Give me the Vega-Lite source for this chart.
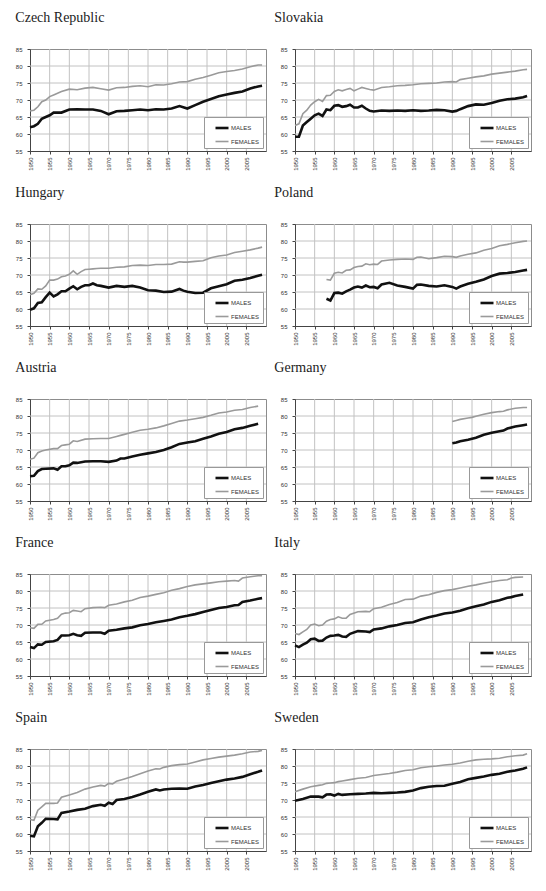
{
"$schema":"https://vega.github.io/schema/vega-lite/v6.json",
"background":"white",
"padding":{"left":14,"top":10,"right":0,"bottom":0},
"config":{
 "view":{"continuousWidth":236,"continuousHeight":102,"stroke":"#8c8c8c","strokeWidth":1},
 "title":{"anchor":"start","font":"Liberation Serif","fontSize":14,"fontWeight":"normal","color":"#222","offset":21},
 "axis":{"grid":false,"labelFont":"Liberation Sans","labelFontSize":6,"labelColor":"#333","tickColor":"#444","tickSize":3,"domainColor":"#444","labelPadding":3},
 "axisY":{"labelPadding":5},
 "rule":{"color":"#c2c2c2","strokeWidth":1},
 "legend":{"orient":"bottom-right","offset":3,"strokeColor":"#999","fillColor":"white","padding":3,"symbolType":"stroke","symbolSize":169,"symbolStrokeWidth":2,"symbolOffset":7,"labelFont":"Liberation Sans","labelFontSize":6,"labelColor":"#333","rowPadding":0,"labelOffset":1}
},
"columns":2,
"spacing":{"row":14,"column":5},
"resolve":{"scale":{"color":"independent","strokeWidth":"independent"},"legend":{"color":"independent"}},
"datasets":{
"gx":[{"g":1955},{"g":1960},{"g":1965},{"g":1970},{"g":1975},{"g":1980},{"g":1985},{"g":1990},{"g":1995},{"g":2000},{"g":2005}],
"gy":[{"g":60},{"g":65},{"g":70},{"g":75},{"g":80}],
"cz":[{"year":1950,"MALES":62,"FEMALES":66.8},{"year":1951,"MALES":62.3,"FEMALES":67},{"year":1952,"MALES":63,"FEMALES":68},{"year":1953,"MALES":64.5,"FEMALES":69.5},{"year":1954,"MALES":65,"FEMALES":70},{"year":1955,"MALES":65.5,"FEMALES":71},{"year":1956,"MALES":66.3,"FEMALES":71.5},{"year":1958,"MALES":66.3,"FEMALES":72.5},{"year":1960,"MALES":67.2,"FEMALES":73.2},{"year":1962,"MALES":67.3,"FEMALES":73},{"year":1964,"MALES":67.2,"FEMALES":73.5},{"year":1966,"MALES":67.2,"FEMALES":73.7},{"year":1968,"MALES":66.8,"FEMALES":73.3},{"year":1970,"MALES":65.8,"FEMALES":72.9},{"year":1972,"MALES":66.7,"FEMALES":73.6},{"year":1974,"MALES":66.8,"FEMALES":73.7},{"year":1976,"MALES":67,"FEMALES":74},{"year":1978,"MALES":67.2,"FEMALES":74.2},{"year":1980,"MALES":67,"FEMALES":73.9},{"year":1982,"MALES":67.3,"FEMALES":74.5},{"year":1984,"MALES":67.2,"FEMALES":74.4},{"year":1986,"MALES":67.5,"FEMALES":74.8},{"year":1988,"MALES":68.2,"FEMALES":75.3},{"year":1990,"MALES":67.5,"FEMALES":75.4},{"year":1992,"MALES":68.5,"FEMALES":76.1},{"year":1994,"MALES":69.5,"FEMALES":76.6},{"year":1996,"MALES":70.3,"FEMALES":77.3},{"year":1998,"MALES":71.1,"FEMALES":78},{"year":2000,"MALES":71.6,"FEMALES":78.4},{"year":2002,"MALES":72.1,"FEMALES":78.7},{"year":2004,"MALES":72.5,"FEMALES":79.1},{"year":2006,"MALES":73.4,"FEMALES":79.8},{"year":2008,"MALES":74,"FEMALES":80.3},{"year":2009,"MALES":74.2,"FEMALES":80.3}],
"sk":[{"year":1950,"MALES":59.2,"FEMALES":62.5},{"year":1951,"MALES":59.2,"FEMALES":63},{"year":1952,"MALES":62.5,"FEMALES":66},{"year":1953,"MALES":63.5,"FEMALES":67},{"year":1954,"MALES":64.5,"FEMALES":68.5},{"year":1955,"MALES":65.5,"FEMALES":69.5},{"year":1956,"MALES":66,"FEMALES":70.2},{"year":1957,"MALES":65.3,"FEMALES":69.6},{"year":1958,"MALES":67.2,"FEMALES":71.3},{"year":1959,"MALES":67,"FEMALES":71.4},{"year":1960,"MALES":68.3,"FEMALES":72.5},{"year":1961,"MALES":68.5,"FEMALES":73},{"year":1962,"MALES":68,"FEMALES":72.7},{"year":1963,"MALES":68.2,"FEMALES":73.1},{"year":1964,"MALES":68.6,"FEMALES":73.4},{"year":1965,"MALES":67.8,"FEMALES":72.7},{"year":1966,"MALES":67.8,"FEMALES":73.2},{"year":1967,"MALES":68.3,"FEMALES":73.7},{"year":1968,"MALES":67.5,"FEMALES":73.4},{"year":1969,"MALES":66.8,"FEMALES":73.1},{"year":1970,"MALES":66.6,"FEMALES":72.9},{"year":1972,"MALES":66.9,"FEMALES":73.7},{"year":1974,"MALES":66.8,"FEMALES":73.9},{"year":1976,"MALES":66.9,"FEMALES":74.2},{"year":1978,"MALES":66.8,"FEMALES":74.3},{"year":1980,"MALES":67,"FEMALES":74.5},{"year":1982,"MALES":66.8,"FEMALES":74.8},{"year":1984,"MALES":66.9,"FEMALES":74.9},{"year":1986,"MALES":67.1,"FEMALES":75},{"year":1988,"MALES":67,"FEMALES":75.3},{"year":1990,"MALES":66.6,"FEMALES":75.4},{"year":1991,"MALES":66.8,"FEMALES":75.3},{"year":1992,"MALES":67.3,"FEMALES":76},{"year":1994,"MALES":68.2,"FEMALES":76.4},{"year":1996,"MALES":68.7,"FEMALES":76.8},{"year":1998,"MALES":68.6,"FEMALES":77.1},{"year":2000,"MALES":69.1,"FEMALES":77.6},{"year":2002,"MALES":69.8,"FEMALES":77.9},{"year":2004,"MALES":70.2,"FEMALES":78.2},{"year":2006,"MALES":70.4,"FEMALES":78.5},{"year":2008,"MALES":70.8,"FEMALES":78.9},{"year":2009,"MALES":71.2,"FEMALES":79}],
"hu":[{"year":1950,"MALES":59.8,"FEMALES":64.2},{"year":1951,"MALES":60.2,"FEMALES":64.6},{"year":1952,"MALES":61.8,"FEMALES":65.9},{"year":1953,"MALES":62,"FEMALES":65.8},{"year":1954,"MALES":63.5,"FEMALES":66.8},{"year":1955,"MALES":64.8,"FEMALES":68.5},{"year":1956,"MALES":63.7,"FEMALES":68.5},{"year":1957,"MALES":64.3,"FEMALES":68.8},{"year":1958,"MALES":65.2,"FEMALES":69.5},{"year":1959,"MALES":65.2,"FEMALES":69.7},{"year":1960,"MALES":66,"FEMALES":70.2},{"year":1961,"MALES":66.7,"FEMALES":71.2},{"year":1962,"MALES":65.8,"FEMALES":70.2},{"year":1963,"MALES":66.5,"FEMALES":71},{"year":1964,"MALES":67,"FEMALES":71.6},{"year":1965,"MALES":67,"FEMALES":71.7},{"year":1966,"MALES":67.5,"FEMALES":71.8},{"year":1967,"MALES":67,"FEMALES":71.9},{"year":1968,"MALES":66.8,"FEMALES":72},{"year":1970,"MALES":66.3,"FEMALES":72},{"year":1972,"MALES":66.8,"FEMALES":72.3},{"year":1974,"MALES":66.5,"FEMALES":72.4},{"year":1976,"MALES":66.8,"FEMALES":72.8},{"year":1978,"MALES":66.3,"FEMALES":72.9},{"year":1980,"MALES":65.5,"FEMALES":72.8},{"year":1982,"MALES":65.4,"FEMALES":73.1},{"year":1984,"MALES":65,"FEMALES":73.1},{"year":1986,"MALES":65.1,"FEMALES":73.2},{"year":1988,"MALES":65.9,"FEMALES":73.9},{"year":1989,"MALES":65.4,"FEMALES":73.8},{"year":1990,"MALES":65.1,"FEMALES":73.8},{"year":1992,"MALES":64.7,"FEMALES":74},{"year":1994,"MALES":64.8,"FEMALES":74.2},{"year":1996,"MALES":66.1,"FEMALES":75.1},{"year":1998,"MALES":66.7,"FEMALES":75.6},{"year":2000,"MALES":67.3,"FEMALES":75.9},{"year":2002,"MALES":68.3,"FEMALES":76.6},{"year":2004,"MALES":68.6,"FEMALES":77},{"year":2006,"MALES":69.1,"FEMALES":77.4},{"year":2008,"MALES":69.8,"FEMALES":77.9},{"year":2009,"MALES":70.1,"FEMALES":78.2}],
"pl":[{"year":1958,"MALES":63,"FEMALES":68.7},{"year":1959,"MALES":62.5,"FEMALES":68.5},{"year":1960,"MALES":64.7,"FEMALES":70.5},{"year":1961,"MALES":64.8,"FEMALES":70.8},{"year":1962,"MALES":64.5,"FEMALES":70.6},{"year":1963,"MALES":65.2,"FEMALES":71.4},{"year":1964,"MALES":65.7,"FEMALES":71.5},{"year":1965,"MALES":66.3,"FEMALES":72.2},{"year":1966,"MALES":66.6,"FEMALES":72.5},{"year":1967,"MALES":66.3,"FEMALES":72.6},{"year":1968,"MALES":66.9,"FEMALES":73.3},{"year":1969,"MALES":66.4,"FEMALES":73},{"year":1970,"MALES":66.5,"FEMALES":73.2},{"year":1971,"MALES":66.1,"FEMALES":73.1},{"year":1972,"MALES":67.2,"FEMALES":74.1},{"year":1974,"MALES":67.7,"FEMALES":74.4},{"year":1976,"MALES":66.9,"FEMALES":74.6},{"year":1978,"MALES":66.5,"FEMALES":74.7},{"year":1980,"MALES":66,"FEMALES":74.6},{"year":1981,"MALES":67.1,"FEMALES":75.2},{"year":1982,"MALES":67.2,"FEMALES":75.3},{"year":1984,"MALES":66.8,"FEMALES":74.8},{"year":1986,"MALES":66.6,"FEMALES":75.1},{"year":1988,"MALES":67,"FEMALES":75.5},{"year":1990,"MALES":66.5,"FEMALES":75.4},{"year":1991,"MALES":66,"FEMALES":75.2},{"year":1992,"MALES":66.6,"FEMALES":75.6},{"year":1994,"MALES":67.4,"FEMALES":76.1},{"year":1996,"MALES":68,"FEMALES":76.5},{"year":1998,"MALES":68.7,"FEMALES":77.3},{"year":2000,"MALES":69.7,"FEMALES":77.8},{"year":2002,"MALES":70.4,"FEMALES":78.6},{"year":2004,"MALES":70.6,"FEMALES":79},{"year":2006,"MALES":70.9,"FEMALES":79.5},{"year":2008,"MALES":71.3,"FEMALES":79.9},{"year":2009,"MALES":71.5,"FEMALES":80}],
"at":[{"year":1950,"MALES":62.3,"FEMALES":67.3},{"year":1951,"MALES":62.4,"FEMALES":67.6},{"year":1952,"MALES":63.8,"FEMALES":69.2},{"year":1953,"MALES":64.4,"FEMALES":69.7},{"year":1954,"MALES":64.5,"FEMALES":70},{"year":1956,"MALES":64.6,"FEMALES":70.4},{"year":1957,"MALES":64.2,"FEMALES":70.4},{"year":1958,"MALES":65.2,"FEMALES":71.3},{"year":1959,"MALES":65.2,"FEMALES":71.5},{"year":1960,"MALES":65.5,"FEMALES":71.7},{"year":1961,"MALES":66.3,"FEMALES":72.7},{"year":1962,"MALES":66.2,"FEMALES":72.5},{"year":1964,"MALES":66.6,"FEMALES":73.2},{"year":1966,"MALES":66.7,"FEMALES":73.3},{"year":1968,"MALES":66.7,"FEMALES":73.4},{"year":1970,"MALES":66.5,"FEMALES":73.4},{"year":1972,"MALES":66.9,"FEMALES":74},{"year":1973,"MALES":67.5,"FEMALES":74.3},{"year":1974,"MALES":67.5,"FEMALES":74.6},{"year":1976,"MALES":68.1,"FEMALES":75.2},{"year":1978,"MALES":68.6,"FEMALES":75.8},{"year":1980,"MALES":69,"FEMALES":76.1},{"year":1982,"MALES":69.4,"FEMALES":76.5},{"year":1984,"MALES":70,"FEMALES":77.1},{"year":1986,"MALES":70.8,"FEMALES":77.8},{"year":1988,"MALES":71.8,"FEMALES":78.5},{"year":1990,"MALES":72.2,"FEMALES":78.8},{"year":1992,"MALES":72.6,"FEMALES":79.2},{"year":1994,"MALES":73.3,"FEMALES":79.6},{"year":1996,"MALES":74,"FEMALES":80.2},{"year":1998,"MALES":74.8,"FEMALES":80.9},{"year":2000,"MALES":75.3,"FEMALES":81.2},{"year":2002,"MALES":76.1,"FEMALES":81.7},{"year":2004,"MALES":76.5,"FEMALES":81.9},{"year":2006,"MALES":77.1,"FEMALES":82.5},{"year":2008,"MALES":77.7,"FEMALES":82.9}],
"de":[{"year":1990,"MALES":72,"FEMALES":78.4},{"year":1991,"MALES":72.2,"FEMALES":78.7},{"year":1992,"MALES":72.6,"FEMALES":79},{"year":1994,"MALES":73,"FEMALES":79.4},{"year":1995,"MALES":73.3,"FEMALES":79.6},{"year":1996,"MALES":73.6,"FEMALES":79.9},{"year":1998,"MALES":74.5,"FEMALES":80.5},{"year":2000,"MALES":75.1,"FEMALES":81},{"year":2002,"MALES":75.5,"FEMALES":81.3},{"year":2003,"MALES":75.7,"FEMALES":81.4},{"year":2004,"MALES":76.3,"FEMALES":81.8},{"year":2006,"MALES":76.9,"FEMALES":82.3},{"year":2008,"MALES":77.3,"FEMALES":82.5},{"year":2009,"MALES":77.5,"FEMALES":82.5}],
"fr":[{"year":1950,"MALES":63.5,"FEMALES":69.2},{"year":1951,"MALES":63.2,"FEMALES":69},{"year":1952,"MALES":64.3,"FEMALES":70.2},{"year":1953,"MALES":64.2,"FEMALES":70.2},{"year":1954,"MALES":65,"FEMALES":71.2},{"year":1956,"MALES":65.2,"FEMALES":71.6},{"year":1957,"MALES":65.6,"FEMALES":72},{"year":1958,"MALES":66.9,"FEMALES":73.2},{"year":1959,"MALES":66.9,"FEMALES":73.5},{"year":1960,"MALES":67,"FEMALES":73.6},{"year":1961,"MALES":67.4,"FEMALES":74.3},{"year":1962,"MALES":67,"FEMALES":74.1},{"year":1963,"MALES":66.8,"FEMALES":73.9},{"year":1964,"MALES":67.7,"FEMALES":74.8},{"year":1966,"MALES":67.8,"FEMALES":75.1},{"year":1968,"MALES":67.8,"FEMALES":75.2},{"year":1969,"MALES":67.4,"FEMALES":75.1},{"year":1970,"MALES":68.3,"FEMALES":75.8},{"year":1972,"MALES":68.6,"FEMALES":76.2},{"year":1974,"MALES":69,"FEMALES":76.8},{"year":1976,"MALES":69.3,"FEMALES":77.3},{"year":1978,"MALES":69.9,"FEMALES":78.1},{"year":1980,"MALES":70.3,"FEMALES":78.5},{"year":1982,"MALES":70.8,"FEMALES":79},{"year":1984,"MALES":71.2,"FEMALES":79.5},{"year":1986,"MALES":71.6,"FEMALES":80.2},{"year":1988,"MALES":72.3,"FEMALES":80.7},{"year":1990,"MALES":72.7,"FEMALES":81.3},{"year":1992,"MALES":73.2,"FEMALES":81.8},{"year":1994,"MALES":73.8,"FEMALES":82.1},{"year":1996,"MALES":74.4,"FEMALES":82.4},{"year":1998,"MALES":75,"FEMALES":82.7},{"year":2000,"MALES":75.3,"FEMALES":82.9},{"year":2002,"MALES":75.8,"FEMALES":83.1},{"year":2003,"MALES":75.9,"FEMALES":82.9},{"year":2004,"MALES":76.8,"FEMALES":83.8},{"year":2006,"MALES":77.2,"FEMALES":84.2},{"year":2008,"MALES":77.7,"FEMALES":84.5},{"year":2009,"MALES":77.9,"FEMALES":84.5}],
"it":[{"year":1950,"MALES":64,"FEMALES":67.5},{"year":1951,"MALES":63.5,"FEMALES":67.2},{"year":1952,"MALES":64.2,"FEMALES":68},{"year":1953,"MALES":64.8,"FEMALES":68.7},{"year":1954,"MALES":65.8,"FEMALES":70},{"year":1955,"MALES":66,"FEMALES":70.3},{"year":1956,"MALES":65.3,"FEMALES":69.8},{"year":1957,"MALES":65.4,"FEMALES":70},{"year":1958,"MALES":66.3,"FEMALES":71.1},{"year":1959,"MALES":66.8,"FEMALES":71.6},{"year":1960,"MALES":66.9,"FEMALES":71.8},{"year":1961,"MALES":67.1,"FEMALES":72.4},{"year":1962,"MALES":66.6,"FEMALES":72},{"year":1963,"MALES":66.5,"FEMALES":72},{"year":1964,"MALES":67.4,"FEMALES":73.1},{"year":1966,"MALES":68.2,"FEMALES":73.9},{"year":1968,"MALES":68.1,"FEMALES":74},{"year":1969,"MALES":67.9,"FEMALES":73.9},{"year":1970,"MALES":68.7,"FEMALES":74.8},{"year":1972,"MALES":69,"FEMALES":75.2},{"year":1974,"MALES":69.6,"FEMALES":76},{"year":1976,"MALES":70,"FEMALES":76.6},{"year":1978,"MALES":70.6,"FEMALES":77.5},{"year":1980,"MALES":70.8,"FEMALES":77.6},{"year":1982,"MALES":71.6,"FEMALES":78.5},{"year":1984,"MALES":72.3,"FEMALES":78.9},{"year":1986,"MALES":72.8,"FEMALES":79.6},{"year":1988,"MALES":73.4,"FEMALES":80.1},{"year":1990,"MALES":73.7,"FEMALES":80.4},{"year":1992,"MALES":74.2,"FEMALES":80.9},{"year":1994,"MALES":74.9,"FEMALES":81.4},{"year":1996,"MALES":75.5,"FEMALES":81.8},{"year":1998,"MALES":76,"FEMALES":82.3},{"year":2000,"MALES":76.8,"FEMALES":82.7},{"year":2002,"MALES":77.3,"FEMALES":83.1},{"year":2004,"MALES":78,"FEMALES":83.3},{"year":2005,"MALES":78.2,"FEMALES":83.8},{"year":2006,"MALES":78.5,"FEMALES":84},{"year":2008,"MALES":79,"FEMALES":84.1}],
"es":[{"year":1950,"MALES":59.5,"FEMALES":64.3},{"year":1951,"MALES":59.3,"FEMALES":64},{"year":1952,"MALES":62.3,"FEMALES":67},{"year":1953,"MALES":63.3,"FEMALES":68},{"year":1954,"MALES":64.5,"FEMALES":69},{"year":1956,"MALES":64.4,"FEMALES":69},{"year":1957,"MALES":64.3,"FEMALES":69.1},{"year":1958,"MALES":66.2,"FEMALES":70.8},{"year":1960,"MALES":66.6,"FEMALES":71.5},{"year":1962,"MALES":67.1,"FEMALES":72.2},{"year":1964,"MALES":67.4,"FEMALES":73.2},{"year":1966,"MALES":68.2,"FEMALES":73.8},{"year":1968,"MALES":68.6,"FEMALES":74.3},{"year":1969,"MALES":68.3,"FEMALES":74.1},{"year":1970,"MALES":69.2,"FEMALES":74.9},{"year":1971,"MALES":68.8,"FEMALES":74.7},{"year":1972,"MALES":70,"FEMALES":75.5},{"year":1974,"MALES":70.3,"FEMALES":76.2},{"year":1976,"MALES":70.9,"FEMALES":76.9},{"year":1978,"MALES":71.6,"FEMALES":77.7},{"year":1980,"MALES":72.4,"FEMALES":78.5},{"year":1982,"MALES":73.1,"FEMALES":79.2},{"year":1983,"MALES":72.8,"FEMALES":79.1},{"year":1984,"MALES":73.1,"FEMALES":79.6},{"year":1986,"MALES":73.3,"FEMALES":80.1},{"year":1988,"MALES":73.4,"FEMALES":80.4},{"year":1990,"MALES":73.3,"FEMALES":80.6},{"year":1992,"MALES":74,"FEMALES":81.2},{"year":1994,"MALES":74.4,"FEMALES":81.8},{"year":1996,"MALES":75,"FEMALES":82.2},{"year":1998,"MALES":75.5,"FEMALES":82.6},{"year":2000,"MALES":76,"FEMALES":82.9},{"year":2002,"MALES":76.3,"FEMALES":83.2},{"year":2004,"MALES":76.8,"FEMALES":83.6},{"year":2006,"MALES":77.6,"FEMALES":84.1},{"year":2008,"MALES":78.3,"FEMALES":84.3},{"year":2009,"MALES":78.7,"FEMALES":84.6}],
"se":[{"year":1950,"MALES":69.8,"FEMALES":72.4},{"year":1952,"MALES":70.3,"FEMALES":73.2},{"year":1954,"MALES":71,"FEMALES":73.9},{"year":1956,"MALES":71,"FEMALES":74.3},{"year":1957,"MALES":70.8,"FEMALES":74.5},{"year":1958,"MALES":71.6,"FEMALES":74.9},{"year":1959,"MALES":71.7,"FEMALES":75},{"year":1960,"MALES":71.3,"FEMALES":75.1},{"year":1961,"MALES":71.8,"FEMALES":75.4},{"year":1962,"MALES":71.5,"FEMALES":75.6},{"year":1964,"MALES":71.7,"FEMALES":76},{"year":1966,"MALES":71.8,"FEMALES":76.4},{"year":1968,"MALES":71.9,"FEMALES":76.6},{"year":1970,"MALES":72.1,"FEMALES":77.2},{"year":1972,"MALES":72,"FEMALES":77.5},{"year":1974,"MALES":72.1,"FEMALES":77.8},{"year":1976,"MALES":72.2,"FEMALES":78.2},{"year":1978,"MALES":72.4,"FEMALES":78.7},{"year":1980,"MALES":72.8,"FEMALES":78.9},{"year":1982,"MALES":73.5,"FEMALES":79.5},{"year":1984,"MALES":73.9,"FEMALES":79.8},{"year":1986,"MALES":74.1,"FEMALES":80},{"year":1988,"MALES":74.2,"FEMALES":80.3},{"year":1990,"MALES":74.8,"FEMALES":80.5},{"year":1992,"MALES":75.3,"FEMALES":80.9},{"year":1994,"MALES":76.1,"FEMALES":81.4},{"year":1996,"MALES":76.5,"FEMALES":81.8},{"year":1998,"MALES":76.9,"FEMALES":82},{"year":2000,"MALES":77.4,"FEMALES":82.1},{"year":2002,"MALES":77.7,"FEMALES":82.3},{"year":2004,"MALES":78.3,"FEMALES":82.7},{"year":2006,"MALES":78.7,"FEMALES":83},{"year":2008,"MALES":79.2,"FEMALES":83.2},{"year":2009,"MALES":79.6,"FEMALES":83.6}]
},
"concat":[
{"title":{"text":"Czech Republic"},"layer":[{"data":{"name":"gx"},"mark":"rule","encoding":{"x":{"field":"g","type":"quantitative","scale":{"domain":[1950,2010],"nice":false,"zero":false},"axis":{"values":[1950,1955,1960,1965,1970,1975,1980,1985,1990,1995,2000,2005],"format":"d","labelAngle":-90,"title":null}}}},{"data":{"name":"gy"},"mark":"rule","encoding":{"y":{"field":"g","type":"quantitative","scale":{"domain":[55,85],"nice":false,"zero":false},"axis":{"values":[55,60,65,70,75,80,85],"title":null}}}},{"data":{"name":"cz"},"transform":[{"fold":["MALES","FEMALES"],"as":["sex","v"]}],"mark":{"type":"line"},"encoding":{"x":{"field":"year","type":"quantitative","scale":{"domain":[1950,2010],"nice":false,"zero":false},"axis":{"values":[1950,1955,1960,1965,1970,1975,1980,1985,1990,1995,2000,2005],"format":"d","labelAngle":-90,"title":null}},"y":{"field":"v","type":"quantitative","scale":{"domain":[55,85],"nice":false,"zero":false},"axis":{"values":[55,60,65,70,75,80,85],"title":null}},"color":{"field":"sex","type":"nominal","scale":{"domain":["MALES","FEMALES"],"range":["#111111","#9a9a9a"]},"legend":{"title":null}},"strokeWidth":{"field":"sex","type":"nominal","scale":{"domain":["MALES","FEMALES"],"range":[2.6,1.6]},"legend":null}}}]},
{"title":{"text":"Slovakia","dx":-6},"layer":[{"data":{"name":"gx"},"mark":"rule","encoding":{"x":{"field":"g","type":"quantitative","scale":{"domain":[1950,2010],"nice":false,"zero":false},"axis":{"values":[1950,1955,1960,1965,1970,1975,1980,1985,1990,1995,2000,2005],"format":"d","labelAngle":-90,"title":null}}}},{"data":{"name":"gy"},"mark":"rule","encoding":{"y":{"field":"g","type":"quantitative","scale":{"domain":[55,85],"nice":false,"zero":false},"axis":{"values":[55,60,65,70,75,80,85],"title":null}}}},{"data":{"name":"sk"},"transform":[{"fold":["MALES","FEMALES"],"as":["sex","v"]}],"mark":{"type":"line"},"encoding":{"x":{"field":"year","type":"quantitative","scale":{"domain":[1950,2010],"nice":false,"zero":false},"axis":{"values":[1950,1955,1960,1965,1970,1975,1980,1985,1990,1995,2000,2005],"format":"d","labelAngle":-90,"title":null}},"y":{"field":"v","type":"quantitative","scale":{"domain":[55,85],"nice":false,"zero":false},"axis":{"values":[55,60,65,70,75,80,85],"title":null}},"color":{"field":"sex","type":"nominal","scale":{"domain":["MALES","FEMALES"],"range":["#111111","#9a9a9a"]},"legend":{"title":null}},"strokeWidth":{"field":"sex","type":"nominal","scale":{"domain":["MALES","FEMALES"],"range":[2.6,1.6]},"legend":null}}}]},
{"title":{"text":"Hungary"},"layer":[{"data":{"name":"gx"},"mark":"rule","encoding":{"x":{"field":"g","type":"quantitative","scale":{"domain":[1950,2010],"nice":false,"zero":false},"axis":{"values":[1950,1955,1960,1965,1970,1975,1980,1985,1990,1995,2000,2005],"format":"d","labelAngle":-90,"title":null}}}},{"data":{"name":"gy"},"mark":"rule","encoding":{"y":{"field":"g","type":"quantitative","scale":{"domain":[55,85],"nice":false,"zero":false},"axis":{"values":[55,60,65,70,75,80,85],"title":null}}}},{"data":{"name":"hu"},"transform":[{"fold":["MALES","FEMALES"],"as":["sex","v"]}],"mark":{"type":"line"},"encoding":{"x":{"field":"year","type":"quantitative","scale":{"domain":[1950,2010],"nice":false,"zero":false},"axis":{"values":[1950,1955,1960,1965,1970,1975,1980,1985,1990,1995,2000,2005],"format":"d","labelAngle":-90,"title":null}},"y":{"field":"v","type":"quantitative","scale":{"domain":[55,85],"nice":false,"zero":false},"axis":{"values":[55,60,65,70,75,80,85],"title":null}},"color":{"field":"sex","type":"nominal","scale":{"domain":["MALES","FEMALES"],"range":["#111111","#9a9a9a"]},"legend":{"title":null}},"strokeWidth":{"field":"sex","type":"nominal","scale":{"domain":["MALES","FEMALES"],"range":[2.6,1.6]},"legend":null}}}]},
{"title":{"text":"Poland","dx":-6},"layer":[{"data":{"name":"gx"},"mark":"rule","encoding":{"x":{"field":"g","type":"quantitative","scale":{"domain":[1950,2010],"nice":false,"zero":false},"axis":{"values":[1950,1955,1960,1965,1970,1975,1980,1985,1990,1995,2000,2005],"format":"d","labelAngle":-90,"title":null}}}},{"data":{"name":"gy"},"mark":"rule","encoding":{"y":{"field":"g","type":"quantitative","scale":{"domain":[55,85],"nice":false,"zero":false},"axis":{"values":[55,60,65,70,75,80,85],"title":null}}}},{"data":{"name":"pl"},"transform":[{"fold":["MALES","FEMALES"],"as":["sex","v"]}],"mark":{"type":"line"},"encoding":{"x":{"field":"year","type":"quantitative","scale":{"domain":[1950,2010],"nice":false,"zero":false},"axis":{"values":[1950,1955,1960,1965,1970,1975,1980,1985,1990,1995,2000,2005],"format":"d","labelAngle":-90,"title":null}},"y":{"field":"v","type":"quantitative","scale":{"domain":[55,85],"nice":false,"zero":false},"axis":{"values":[55,60,65,70,75,80,85],"title":null}},"color":{"field":"sex","type":"nominal","scale":{"domain":["MALES","FEMALES"],"range":["#111111","#9a9a9a"]},"legend":{"title":null}},"strokeWidth":{"field":"sex","type":"nominal","scale":{"domain":["MALES","FEMALES"],"range":[2.6,1.6]},"legend":null}}}]},
{"title":{"text":"Austria"},"layer":[{"data":{"name":"gx"},"mark":"rule","encoding":{"x":{"field":"g","type":"quantitative","scale":{"domain":[1950,2010],"nice":false,"zero":false},"axis":{"values":[1950,1955,1960,1965,1970,1975,1980,1985,1990,1995,2000,2005],"format":"d","labelAngle":-90,"title":null}}}},{"data":{"name":"gy"},"mark":"rule","encoding":{"y":{"field":"g","type":"quantitative","scale":{"domain":[55,85],"nice":false,"zero":false},"axis":{"values":[55,60,65,70,75,80,85],"title":null}}}},{"data":{"name":"at"},"transform":[{"fold":["MALES","FEMALES"],"as":["sex","v"]}],"mark":{"type":"line"},"encoding":{"x":{"field":"year","type":"quantitative","scale":{"domain":[1950,2010],"nice":false,"zero":false},"axis":{"values":[1950,1955,1960,1965,1970,1975,1980,1985,1990,1995,2000,2005],"format":"d","labelAngle":-90,"title":null}},"y":{"field":"v","type":"quantitative","scale":{"domain":[55,85],"nice":false,"zero":false},"axis":{"values":[55,60,65,70,75,80,85],"title":null}},"color":{"field":"sex","type":"nominal","scale":{"domain":["MALES","FEMALES"],"range":["#111111","#9a9a9a"]},"legend":{"title":null}},"strokeWidth":{"field":"sex","type":"nominal","scale":{"domain":["MALES","FEMALES"],"range":[2.6,1.6]},"legend":null}}}]},
{"title":{"text":"Germany","dx":-6},"layer":[{"data":{"name":"gx"},"mark":"rule","encoding":{"x":{"field":"g","type":"quantitative","scale":{"domain":[1950,2010],"nice":false,"zero":false},"axis":{"values":[1950,1955,1960,1965,1970,1975,1980,1985,1990,1995,2000,2005],"format":"d","labelAngle":-90,"title":null}}}},{"data":{"name":"gy"},"mark":"rule","encoding":{"y":{"field":"g","type":"quantitative","scale":{"domain":[55,85],"nice":false,"zero":false},"axis":{"values":[55,60,65,70,75,80,85],"title":null}}}},{"data":{"name":"de"},"transform":[{"fold":["MALES","FEMALES"],"as":["sex","v"]}],"mark":{"type":"line"},"encoding":{"x":{"field":"year","type":"quantitative","scale":{"domain":[1950,2010],"nice":false,"zero":false},"axis":{"values":[1950,1955,1960,1965,1970,1975,1980,1985,1990,1995,2000,2005],"format":"d","labelAngle":-90,"title":null}},"y":{"field":"v","type":"quantitative","scale":{"domain":[55,85],"nice":false,"zero":false},"axis":{"values":[55,60,65,70,75,80,85],"title":null}},"color":{"field":"sex","type":"nominal","scale":{"domain":["MALES","FEMALES"],"range":["#111111","#9a9a9a"]},"legend":{"title":null}},"strokeWidth":{"field":"sex","type":"nominal","scale":{"domain":["MALES","FEMALES"],"range":[2.6,1.6]},"legend":null}}}]},
{"title":{"text":"France"},"layer":[{"data":{"name":"gx"},"mark":"rule","encoding":{"x":{"field":"g","type":"quantitative","scale":{"domain":[1950,2010],"nice":false,"zero":false},"axis":{"values":[1950,1955,1960,1965,1970,1975,1980,1985,1990,1995,2000,2005],"format":"d","labelAngle":-90,"title":null}}}},{"data":{"name":"gy"},"mark":"rule","encoding":{"y":{"field":"g","type":"quantitative","scale":{"domain":[55,85],"nice":false,"zero":false},"axis":{"values":[55,60,65,70,75,80,85],"title":null}}}},{"data":{"name":"fr"},"transform":[{"fold":["MALES","FEMALES"],"as":["sex","v"]}],"mark":{"type":"line"},"encoding":{"x":{"field":"year","type":"quantitative","scale":{"domain":[1950,2010],"nice":false,"zero":false},"axis":{"values":[1950,1955,1960,1965,1970,1975,1980,1985,1990,1995,2000,2005],"format":"d","labelAngle":-90,"title":null}},"y":{"field":"v","type":"quantitative","scale":{"domain":[55,85],"nice":false,"zero":false},"axis":{"values":[55,60,65,70,75,80,85],"title":null}},"color":{"field":"sex","type":"nominal","scale":{"domain":["MALES","FEMALES"],"range":["#111111","#9a9a9a"]},"legend":{"title":null}},"strokeWidth":{"field":"sex","type":"nominal","scale":{"domain":["MALES","FEMALES"],"range":[2.6,1.6]},"legend":null}}}]},
{"title":{"text":"Italy","dx":-6},"layer":[{"data":{"name":"gx"},"mark":"rule","encoding":{"x":{"field":"g","type":"quantitative","scale":{"domain":[1950,2010],"nice":false,"zero":false},"axis":{"values":[1950,1955,1960,1965,1970,1975,1980,1985,1990,1995,2000,2005],"format":"d","labelAngle":-90,"title":null}}}},{"data":{"name":"gy"},"mark":"rule","encoding":{"y":{"field":"g","type":"quantitative","scale":{"domain":[55,85],"nice":false,"zero":false},"axis":{"values":[55,60,65,70,75,80,85],"title":null}}}},{"data":{"name":"it"},"transform":[{"fold":["MALES","FEMALES"],"as":["sex","v"]}],"mark":{"type":"line"},"encoding":{"x":{"field":"year","type":"quantitative","scale":{"domain":[1950,2010],"nice":false,"zero":false},"axis":{"values":[1950,1955,1960,1965,1970,1975,1980,1985,1990,1995,2000,2005],"format":"d","labelAngle":-90,"title":null}},"y":{"field":"v","type":"quantitative","scale":{"domain":[55,85],"nice":false,"zero":false},"axis":{"values":[55,60,65,70,75,80,85],"title":null}},"color":{"field":"sex","type":"nominal","scale":{"domain":["MALES","FEMALES"],"range":["#111111","#9a9a9a"]},"legend":{"title":null}},"strokeWidth":{"field":"sex","type":"nominal","scale":{"domain":["MALES","FEMALES"],"range":[2.6,1.6]},"legend":null}}}]},
{"title":{"text":"Spain"},"layer":[{"data":{"name":"gx"},"mark":"rule","encoding":{"x":{"field":"g","type":"quantitative","scale":{"domain":[1950,2010],"nice":false,"zero":false},"axis":{"values":[1950,1955,1960,1965,1970,1975,1980,1985,1990,1995,2000,2005],"format":"d","labelAngle":-90,"title":null}}}},{"data":{"name":"gy"},"mark":"rule","encoding":{"y":{"field":"g","type":"quantitative","scale":{"domain":[55,85],"nice":false,"zero":false},"axis":{"values":[55,60,65,70,75,80,85],"title":null}}}},{"data":{"name":"es"},"transform":[{"fold":["MALES","FEMALES"],"as":["sex","v"]}],"mark":{"type":"line"},"encoding":{"x":{"field":"year","type":"quantitative","scale":{"domain":[1950,2010],"nice":false,"zero":false},"axis":{"values":[1950,1955,1960,1965,1970,1975,1980,1985,1990,1995,2000,2005],"format":"d","labelAngle":-90,"title":null}},"y":{"field":"v","type":"quantitative","scale":{"domain":[55,85],"nice":false,"zero":false},"axis":{"values":[55,60,65,70,75,80,85],"title":null}},"color":{"field":"sex","type":"nominal","scale":{"domain":["MALES","FEMALES"],"range":["#111111","#9a9a9a"]},"legend":{"title":null}},"strokeWidth":{"field":"sex","type":"nominal","scale":{"domain":["MALES","FEMALES"],"range":[2.6,1.6]},"legend":null}}}]},
{"title":{"text":"Sweden","dx":-6},"layer":[{"data":{"name":"gx"},"mark":"rule","encoding":{"x":{"field":"g","type":"quantitative","scale":{"domain":[1950,2010],"nice":false,"zero":false},"axis":{"values":[1950,1955,1960,1965,1970,1975,1980,1985,1990,1995,2000,2005],"format":"d","labelAngle":-90,"title":null}}}},{"data":{"name":"gy"},"mark":"rule","encoding":{"y":{"field":"g","type":"quantitative","scale":{"domain":[55,85],"nice":false,"zero":false},"axis":{"values":[55,60,65,70,75,80,85],"title":null}}}},{"data":{"name":"se"},"transform":[{"fold":["MALES","FEMALES"],"as":["sex","v"]}],"mark":{"type":"line"},"encoding":{"x":{"field":"year","type":"quantitative","scale":{"domain":[1950,2010],"nice":false,"zero":false},"axis":{"values":[1950,1955,1960,1965,1970,1975,1980,1985,1990,1995,2000,2005],"format":"d","labelAngle":-90,"title":null}},"y":{"field":"v","type":"quantitative","scale":{"domain":[55,85],"nice":false,"zero":false},"axis":{"values":[55,60,65,70,75,80,85],"title":null}},"color":{"field":"sex","type":"nominal","scale":{"domain":["MALES","FEMALES"],"range":["#111111","#9a9a9a"]},"legend":{"title":null}},"strokeWidth":{"field":"sex","type":"nominal","scale":{"domain":["MALES","FEMALES"],"range":[2.6,1.6]},"legend":null}}}]}
]
}
